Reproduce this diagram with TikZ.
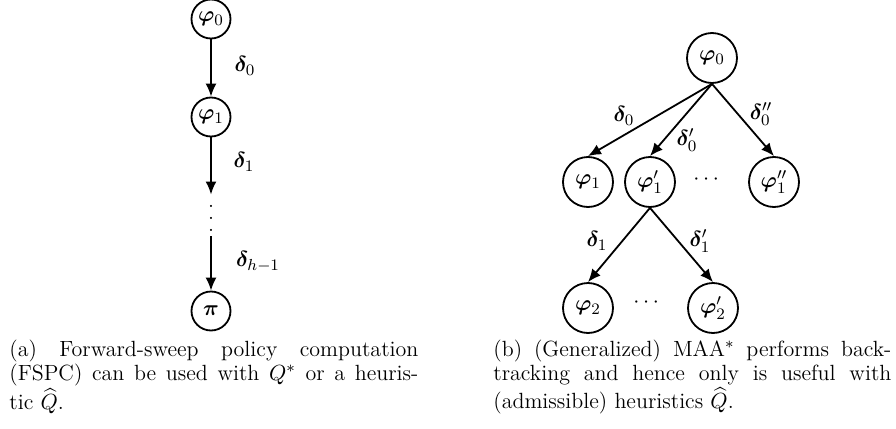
\documentclass[tikz,border=0pt]{standalone}
\usepackage{amsmath,amssymb,bm}
\usetikzlibrary{arrows.meta}
\begin{document}
\begin{tikzpicture}[x=0.5pt,y=-0.5pt,
  every node/.style={font=\fontsize{11}{12}\selectfont},
  sn/.style={circle,draw,line width=0.9pt,inner sep=0pt,minimum size=19.5pt},
  bn/.style={circle,draw,line width=0.9pt,inner sep=0pt,minimum size=25pt},
  arr/.style={-{Latex[length=6.5pt,width=5.5pt]},line width=0.9pt},
  lab/.style={inner sep=0pt},
  captext/.style={anchor=north west,inner sep=0pt,align=justify}]
\useasboundingbox (0,0) rectangle (896,429);
% left
\node[sn] (l0) at (211,19) {$\bm{\varphi}_0$};
\node[sn] (l1) at (211,117) {$\bm{\varphi}_1$};
\node[inner sep=0pt] (lv) at (211,218) {\vbox{\baselineskip=6pt\lineskiplimit=0pt\hbox{.}\hbox{.}\hbox{.}}};
\node[sn] (lp) at (211,311) {$\bm{\pi}$};
\draw[arr] (l0) -- (l1);
\draw[arr] (l1) -- ([yshift=5pt]lv.north);
\draw[arr] ([yshift=-2.5pt]lv.south) -- (lp);
\node[lab] (d0) at (245,66) {$\bm{\delta}_0$};
\node[lab] (d1) at (244,162) {$\bm{\delta}_1$};
\node[lab] (dh) at (258,262) {$\bm{\delta}_{h-1}$};
% right
\node[bn] (r0) at (712,58) {$\bm{\varphi}_0$};
\node[bn] (ra) at (588,182) {$\bm{\varphi}_1$};
\node[bn] (rb) at (650,182) {$\bm{\varphi}'_1$};
\node[inner sep=0pt] (rd1) at (708,180) {$\cdots$};
\node[bn] (rc) at (774,182) {$\bm{\varphi}''_1$};
\node[bn] (rd) at (588,308) {$\bm{\varphi}_2$};
\node[inner sep=0pt] (rd2) at (648,303) {$\cdots$};
\node[bn] (re) at (713,308) {$\bm{\varphi}'_2$};
\draw[arr] (r0.south) -- (ra.north);
\draw[arr] (r0.south) -- (rb.north);
\draw[arr] (r0.south) -- (rc.north);
\draw[arr] (rb.south) -- (rd.north);
\draw[arr] (rb.south) -- (re.north);
\node[lab] (e0) at (624,116) {$\bm{\delta}_0$};
\node[lab] (e0p) at (687,140) {$\bm{\delta}'_0$};
\node[lab] (e0pp) at (761,114) {$\bm{\delta}''_0$};
\node[lab] (e1) at (597,241) {$\bm{\delta}_1$};
\node[lab] (e1p) at (700,241) {$\bm{\delta}'_1$};
% captions
\node[captext,text width=204.5pt] (ca) at (9,340) {(a) Forward-sweep policy computation\linebreak (FSPC) can be used with $Q^*$ or a heuris-\linebreak tic $\widehat{Q}$.};
\node[captext,text width=199pt] (cb) at (493,340) {(b) (Generalized) MAA$^*$ performs back-\linebreak tracking and hence only is useful with\linebreak (admissible) heuristics $\widehat{Q}$.};
\end{tikzpicture}
\end{document}
